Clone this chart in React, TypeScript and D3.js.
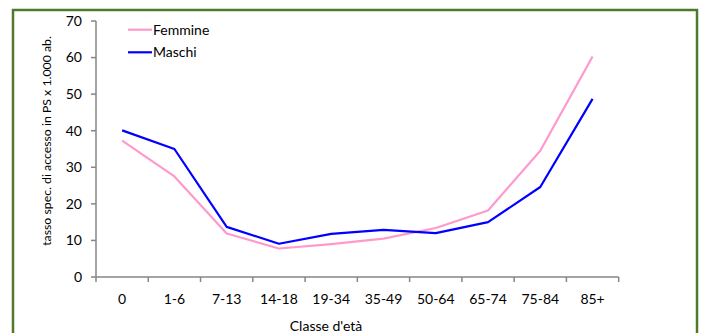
import React from "react";
import * as d3 from "d3";

const categories = ["0", "1-6", "7-13", "14-18", "19-34", "35-49", "50-64", "65-74", "75-84", "85+"];
const femmine = [37.3, 27.5, 11.9, 7.8, 9.0, 10.5, 13.4, 18.2, 34.5, 60.3];
const maschi = [40.1, 35.0, 13.7, 9.1, 11.8, 12.9, 12.0, 15.0, 24.6, 48.7];
const yTicks = [0, 10, 20, 30, 40, 50, 60, 70];
const seriesNames = ["Femmine", "Maschi"];

const W = 702, H = 333;
const FONT = "Lato, 'Liberation Sans', sans-serif";

export default function App() {
  const x = d3.scaleBand<string>().domain(categories).range([96, 618.7]);
  const y = d3.scaleLinear().domain([0, 70]).range([277, 21]);
  const line = d3.line<number>()
    .x((_, i) => (x(categories[i]) as number) + x.bandwidth() / 2)
    .y((d) => y(d));
  const colors = ["#FF99CC", "#0000FF"];
  const series = [femmine, maschi];
  const boundaries = [...categories.map((c) => x(c) as number), x.range()[1]];
  const axisColor = "#868686";

  return (
    <svg width={W} height={H} style={{ position: "absolute", left: 0, top: 0 }}>
      <rect x={0} y={0} width={W} height={H} fill="#fff" />
      <rect x={13} y={10} width={684} height={H} fill="none" stroke="#4F7A2E" strokeWidth={2.5} />
      {/* y axis */}
      <line x1={96} x2={96} y1={y(70)} y2={y(0)} stroke={axisColor} strokeWidth={1.5} />
      {yTicks.map((t) => (
        <g key={t}>
          <line x1={91} x2={96} y1={y(t)} y2={y(t)} stroke={axisColor} strokeWidth={1.5} />
          <text x={82} y={y(t)} dy="0.35em" textAnchor="end" fontSize={14} fontFamily={FONT} fill="#000">{t}</text>
        </g>
      ))}
      {/* x axis */}
      <line x1={96} x2={x.range()[1]} y1={y(0)} y2={y(0)} stroke={axisColor} strokeWidth={1.5} />
      {boundaries.map((b, i) => (
        <line key={i} x1={b} x2={b} y1={y(0)} y2={y(0) + 5} stroke={axisColor} strokeWidth={1.5} />
      ))}
      {categories.map((c) => (
        <text key={c} x={(x(c) as number) + x.bandwidth() / 2} y={299} dy="0.35em" textAnchor="middle" fontSize={14} fontFamily={FONT} fill="#000">{c}</text>
      ))}
      <text x={326} y={326} dy="0.35em" textAnchor="middle" fontSize={14} fontFamily={FONT} fill="#000">Classe d'età</text>
      <text transform={`translate(47,141) rotate(-90)`} textAnchor="middle" dy="0.35em" fontSize={12.3} fontFamily={FONT} fill="#000">tasso spec. di accesso in PS x 1.000 ab.</text>
      {/* lines */}
      {series.map((s, i) => (
        <path key={i} d={line(s) || ""} fill="none" stroke={colors[i]} strokeWidth={2.2} strokeLinejoin="round" />
      ))}
      {/* legend */}
      {seriesNames.map((n, i) => (
        <g key={n}>
          <line x1={128} x2={152} y1={29.7 + i * 22.6} y2={29.7 + i * 22.6} stroke={colors[i]} strokeWidth={2.2} />
          <text x={153} y={29.7 + i * 22.6} dy="0.35em" fontSize={14} fontFamily={FONT} fill="#000">{n}</text>
        </g>
      ))}
    </svg>
  );
}
